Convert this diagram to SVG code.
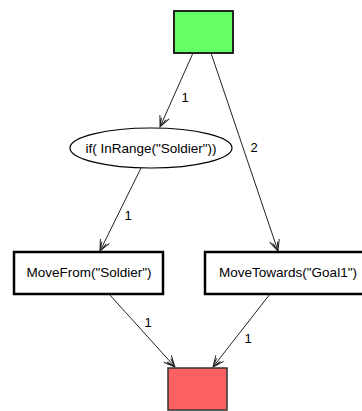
<svg xmlns="http://www.w3.org/2000/svg" width="362" height="411" viewBox="0 0 362 411">
<style>
text{font-family:"Liberation Sans",Arial,sans-serif;fill:#000}
.t{font-size:13.5px;text-anchor:middle}
.l{font-size:13px;text-anchor:middle}
.e{fill:none;stroke:#222;stroke-width:1}
.box{fill:#fff;stroke:#000;stroke-width:2.5}
</style>
<defs>
<marker id="a" markerWidth="14" markerHeight="12" refX="12" refY="6" orient="auto" markerUnits="userSpaceOnUse">
<path d="M1,1 L12,6 L1,11 M3,3.5 L12,6 M3,8.5 L12,6" fill="none" stroke="#222" stroke-width="1"/>
</marker>
</defs>
<rect width="362" height="411" fill="#fff"/>
<g id="connectors">
<line class="e" x1="193" y1="53" x2="160" y2="127" marker-end="url(#a)"/>
<line class="e" x1="141" y1="168" x2="100" y2="251" marker-end="url(#a)"/>
<line class="e" x1="211" y1="53" x2="278" y2="251" marker-end="url(#a)"/>
<line class="e" x1="109" y1="294" x2="175" y2="367" marker-end="url(#a)"/>
<line class="e" x1="270" y1="294" x2="213" y2="367" marker-end="url(#a)"/>
<text class="l" x="185" y="102">1</text>
<text class="l" x="128" y="220">1</text>
<text class="l" x="254" y="152">2</text>
<text class="l" x="148" y="327">1</text>
<text class="l" x="248" y="343">1</text>
</g>
<g id="start">
<rect x="174" y="11" width="59" height="42" fill="#66ff66" stroke="#222" stroke-width="2"/>
</g>
<g id="cond">
<ellipse cx="151" cy="148" rx="81" ry="20" fill="#fff" stroke="#000" stroke-width="1.2"/>
<text class="t" x="151" y="153">if( InRange("Soldier"))</text>
</g>
<g id="moveFrom">
<rect class="box" x="14" y="252" width="149" height="42"/>
<text class="t" x="89" y="277">MoveFrom("Soldier")</text>
</g>
<g id="moveTowards">
<rect class="box" x="205" y="252" width="168" height="42"/>
<text class="t" x="288" y="277">MoveTowards("Goal1")</text>
</g>
<g id="end">
<rect x="168" y="368" width="59" height="42" fill="#ff6060" stroke="#333" stroke-width="1.5"/>
</g>
</svg>
